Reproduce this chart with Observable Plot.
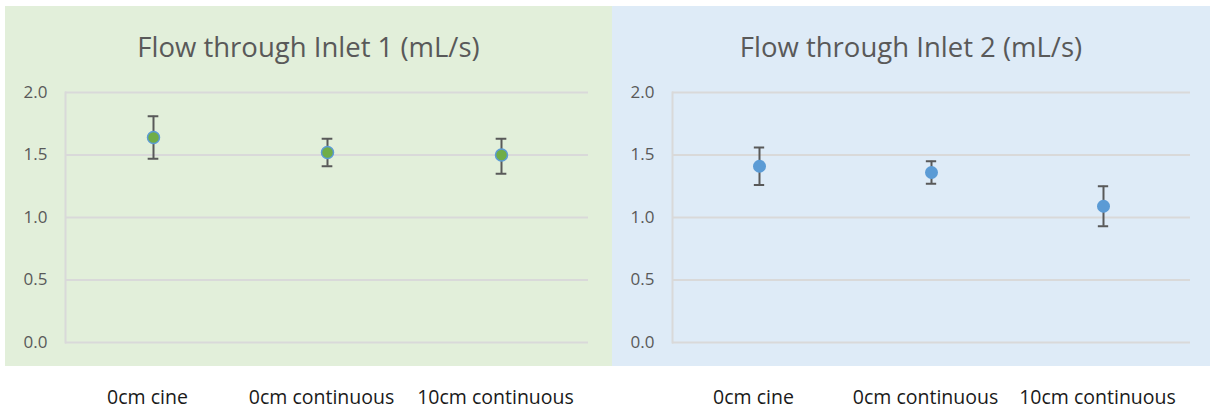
<!DOCTYPE html>
<html><head><meta charset="utf-8">
<script src="https://cdn.jsdelivr.net/npm/d3@7"></script>
<script src="https://cdn.jsdelivr.net/npm/@observablehq/plot@0.6"></script>
<style>
body{margin:0;background:#fff;font-family:"Open Sans",sans-serif;}
#wrap{position:relative;width:1210px;height:415px;overflow:hidden;}
.bg{position:absolute;top:6px;height:360px;}
.title{position:absolute;top:29px;font-size:27.5px;line-height:36px;color:#595959;text-align:center;}
.chart{position:absolute;top:70px;}
</style></head><body>
<div id="wrap">
  <div class="bg" style="left:5px;width:607px;background:#e2efda"></div>
  <div class="bg" style="left:612px;width:598px;background:#deebf7"></div>
  <div class="title" id="t1" style="left:5px;width:607px"></div>
  <div class="title" id="t2" style="left:612px;width:598px"></div>
  <div class="chart" id="c1" style="left:0px"></div>
  <div class="chart" id="c2" style="left:607px"></div>
</div>
<script>
const categories = ["0cm cine", "0cm continuous", "10cm continuous"];
const titles = ["Flow through Inlet 1 (mL/s)", "Flow through Inlet 2 (mL/s)"];
const inlet1Mean = [1.64, 1.52, 1.50];
const inlet1Low  = [1.47, 1.41, 1.35];
const inlet1High = [1.81, 1.63, 1.63];
const inlet2Mean = [1.41, 1.36, 1.09];
const inlet2Low  = [1.26, 1.27, 0.93];
const inlet2High = [1.56, 1.45, 1.25];
const yTicks = [0, 0.5, 1.0, 1.5, 2.0];

function panel(mean, low, high, width, mLeft, mRight, dotFill, dotStroke, r) {
  const data = categories.map((c, i) => ({cat: c, mean: mean[i], lo: low[i], hi: high[i]}));
  const plotW = width - mLeft - mRight;
  const capInset = (plotW / categories.length - 11) / 2;
  return Plot.plot({
    width, height: 345,
    marginLeft: mLeft, marginRight: mRight, marginTop: 22, marginBottom: 73,
    style: {background: "transparent", fontFamily: "'Open Sans', sans-serif", fontSize: "17px", color: "#595959", overflow: "visible"},
    x: {type: "band", domain: categories, padding: 0, label: null, tickSize: 0, tickPadding: 48},
    y: {domain: [0, 2], ticks: yTicks, tickFormat: d3.format(".1f"), label: null, tickSize: 0, tickPadding: 18},
    marks: [
      Plot.ruleY(yTicks, {stroke: "#d9d9d9", strokeWidth: 2}),
      Plot.frame({anchor: "left", stroke: "#d9d9d9", strokeWidth: 2}),
      Plot.ruleX(data, {x: "cat", y1: "lo", y2: "hi", stroke: "#595959", strokeWidth: 2}),
      Plot.tickY(data, {x: "cat", y: "lo", stroke: "#595959", strokeWidth: 2, insetLeft: capInset, insetRight: capInset}),
      Plot.tickY(data, {x: "cat", y: "hi", stroke: "#595959", strokeWidth: 2, insetLeft: capInset, insetRight: capInset}),
      Plot.dot(data, {x: "cat", y: "mean", r, fill: dotFill, stroke: dotStroke, strokeWidth: dotStroke ? 1.5 : 0})
    ]
  });
}

document.getElementById("t1").textContent = titles[0];
document.getElementById("t2").textContent = titles[1];
const p1 = panel(inlet1Mean, inlet1Low, inlet1High, 612, 65, 24, "#70ad47", "#5b9bd5", 6);
const p2 = panel(inlet2Mean, inlet2Low, inlet2High, 603, 65, 20, "#5b9bd5", null, 6.5);
document.getElementById("c1").appendChild(p1);
document.getElementById("c2").appendChild(p2);
document.querySelectorAll("svg g[aria-label='x-axis tick label'] text, svg g[aria-label='x-axis'] text").forEach(t => {
  t.style.fill = "#1a1a1a"; t.style.fontSize = "19.5px"; t.setAttribute("dx", "-6");
});
</script>
</body></html>
